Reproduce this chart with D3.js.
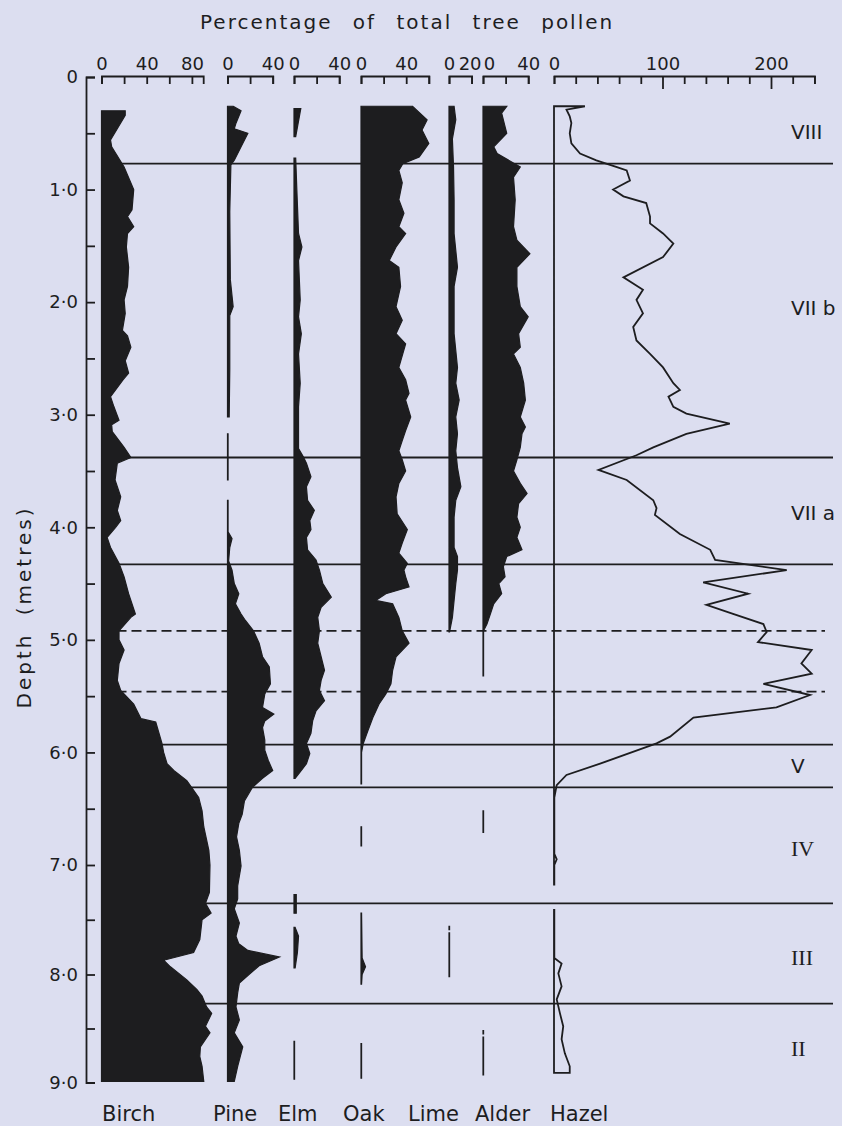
<!DOCTYPE html>
<html>
<head>
  <meta charset="utf-8">
  <script src="https://d3js.org/d3.v7.min.js"></script>
  <style>
    body { margin: 0; background: #dcdef0; }
    svg { display: block; }
  </style>
</head>
<body>
  <svg class="chart"></svg>
  <script>
      // Constants
      const WIDTH        = 842;
      const HEIGHT       = 1126;
      const COLOR_BKGND  = "#dcdef0";
      const INK          = "#1d1d1f";
      const FONT         = "DejaVu Sans";
      const SERIF        = "Liberation Serif";

      // ---- data: [depth (m), % of total tree pollen]; null = taxon absent
      const birch = [[0.30,21],[0.34,21],[0.56,8],[0.62,9],[0.80,20],[1.00,28.5],[1.18,27],[1.24,23],[1.33,28.5],
        [1.39,23],[1.51,22],[1.69,24],[1.86,23],[1.98,20],[2.10,21],[2.25,18.5],[2.30,23],[2.40,26],[2.52,21],
        [2.63,24],[2.69,19],[2.84,8],[2.93,11],[3.05,15.5],[3.09,9],[3.15,9.5],[3.29,20],[3.38,26],[3.43,14],
        [3.58,12],[3.73,17],[3.85,14],[3.94,17],[4.00,12.5],[4.09,5],[4.18,8],[4.32,15.5],[4.44,20],[4.59,24],
        [4.77,30],[4.80,26],[4.92,15.5],[5.00,15.5],[5.09,20],[5.21,15.5],[5.36,14],[5.45,17],[5.57,28.5],
        [5.70,35],[5.73,48],[5.92,53.5],[6.00,55],[6.10,58],[6.16,64],[6.25,75.5],[6.40,86],[6.52,89],[6.66,90.5],
        [6.87,95],[7.00,96],[7.25,95.5],[7.35,92],[7.44,97],[7.50,89],[7.68,87],[7.80,81.5],[7.87,55],[7.93,61],
        [8.05,75.5],[8.14,84.5],[8.20,89],[8.30,93],[8.36,97.5],[8.48,92],[8.54,96],[8.67,87.5],[8.76,87],
        [8.85,89],[8.99,90.5]];

      const pine = [[0.26,5],[0.30,12],[0.41,7.5],[0.46,6],[0.50,18],[0.62,12],[0.74,6],[0.78,3],[1.20,2],[1.80,2.5],
        [2.04,5],[2.12,2],[2.60,2],[3.02,1.5],[3.08,null],[3.17,0.5],[3.58,0.5],[3.65,null],[3.76,0.5],[4.04,0.5],
        [4.10,4],[4.18,2],[4.30,1],[4.38,4],[4.50,6],[4.59,10],[4.68,7],[4.77,12],[4.83,16],[4.92,23],[5.03,28],
        [5.15,31],[5.24,37],[5.39,38],[5.48,33],[5.60,31],[5.66,41],[5.72,33],[5.78,31],[5.89,33],[5.98,33],
        [6.07,36],[6.16,40],[6.23,31],[6.31,22],[6.43,15],[6.55,13],[6.63,10],[6.75,8],[6.87,10.5],[7.01,12],
        [7.19,9],[7.31,9],[7.40,6],[7.53,10.5],[7.65,7.5],[7.72,10],[7.78,18],[7.84,46],[7.92,28],[8.00,19],
        [8.08,10.5],[8.17,9],[8.30,7.5],[8.42,10.5],[8.54,6],[8.67,13.5],[8.85,9],[8.99,6]];

      const elm = [[0.28,6],[0.53,1.5],[0.60,null],[0.72,1.5],[1.00,2.5],[1.39,4],[1.51,7],[1.63,4],[1.98,5.5],
        [2.13,4],[2.28,6.5],[2.46,4],[2.72,5.5],[2.93,4],[3.30,4],[3.37,8],[3.43,11],[3.55,15],[3.64,11],[3.76,12],
        [3.85,18],[3.94,14],[4.02,15],[4.09,11],[4.20,12],[4.29,19.5],[4.38,22.5],[4.50,25.5],[4.62,33],[4.71,24],
        [4.80,21],[4.92,22.5],[5.03,21],[5.15,24],[5.27,27],[5.36,24],[5.45,22.5],[5.54,27],[5.63,19.5],
        [5.72,16.5],[5.83,15],[5.92,11],[6.01,14],[6.10,11],[6.16,6.5],[6.23,1],[6.30,null],[7.27,2],[7.44,2],
        [7.50,null],[7.57,1],[7.65,4],[7.80,3],[7.94,1],[8.00,null],[8.62,0.5],[8.97,0.5]];

      const oak = [[0.26,45.5],[0.38,58.5],[0.47,54],[0.59,60],[0.71,51.5],[0.77,37],[0.83,33.5],[0.94,36.5],
        [1.09,33.5],[1.21,38],[1.33,33.5],[1.39,39.5],[1.51,31],[1.63,25],[1.69,33.5],[1.86,35],[2.04,31],
        [2.16,36.5],[2.28,31],[2.37,39.5],[2.58,33.5],[2.69,39.5],[2.81,42.5],[2.87,39.5],[3.02,44],[3.14,39.5],
        [3.23,36.5],[3.32,33.5],[3.40,36.5],[3.50,39.5],[3.61,33.5],[3.73,31],[3.88,32],[4.02,41],[4.14,36.5],
        [4.23,33.5],[4.32,41],[4.38,38],[4.44,39.5],[4.53,42.5],[4.59,22],[4.65,13],[4.68,28],[4.80,33.5],
        [4.92,36.5],[5.03,42.5],[5.15,31],[5.27,28],[5.39,26.5],[5.48,22],[5.57,16],[5.69,10.5],[5.81,6],
        [5.92,2],[6.00,0.5],[6.28,0.5],[6.40,null],[6.66,0.5],[6.83,0.5],[7.00,null],[7.44,0.5],[7.85,1],
        [7.93,4],[8.00,1],[8.09,0.5],[8.30,null],[8.64,0.5],[8.96,0.5]];

      const lime = [[0.26,4.5],[0.38,6],[0.55,3],[0.80,4],[1.09,4.5],[1.39,4.5],[1.69,7.5],[1.86,4.5],[2.28,4.5],
        [2.58,7.5],[2.72,6],[2.87,9],[3.02,6],[3.17,7.5],[3.32,6],[3.47,7.5],[3.64,10.5],[3.76,6],[3.91,4.5],
        [4.18,4.5],[4.26,7.5],[4.38,7.5],[4.50,6],[4.65,4.5],[4.80,3],[4.93,0.5],[5.00,null],[7.56,0.5],
        [7.59,0.5],[7.60,null],[7.62,0.5],[8.02,0.5]];

      const alder = [[0.26,21],[0.32,16.5],[0.50,21],[0.62,9.5],[0.68,12.5],[0.80,33],[0.89,27],[1.09,28.5],
        [1.33,27],[1.45,30],[1.57,41.5],[1.69,30],[1.86,30],[2.04,33],[2.13,40],[2.28,31.5],[2.40,33],[2.46,27],
        [2.58,33],[2.72,36],[2.87,37.5],[3.02,33],[3.11,37.5],[3.17,34.5],[3.29,33],[3.40,30],[3.50,27],[3.61,33],
        [3.70,39],[3.79,31.5],[3.91,30],[4.00,33],[4.09,30],[4.20,34.5],[4.26,21],[4.35,18],[4.44,19.5],[4.50,14],
        [4.59,16.5],[4.68,9.5],[4.77,6.5],[4.86,3.5],[4.92,0.5],[5.32,0.5],[5.40,null],[6.52,0.5],[6.71,0.5],
        [6.80,null],[8.52,0.5],[8.55,0.5],[8.56,null],[8.58,0.5],[8.93,0.5]];

      const hazel = [[0.26,28.5],[0.29,11.5],[0.35,14.5],[0.41,16],[0.50,14.5],[0.59,16],[0.68,24],[0.74,39],
        [0.80,58],[0.83,67],[0.92,70],[1.00,54.5],[1.06,64],[1.12,85],[1.24,88.5],[1.30,88.5],[1.39,100.5],
        [1.48,110],[1.60,100.5],[1.78,64],[1.89,82],[1.98,76],[2.10,82],[2.22,73],[2.34,76],[2.46,88.5],
        [2.58,100.5],[2.72,110],[2.78,116],[2.84,105.5],[2.93,110],[2.99,122],[3.08,162],[3.17,122],[3.29,91.5],
        [3.36,76],[3.49,41],[3.58,67],[3.76,91.5],[3.83,94.5],[3.89,93],[4.06,116],[4.20,144],[4.29,148.5],
        [4.38,214.5],[4.49,137.5],[4.59,179],[4.69,140.5],[4.77,165],[4.86,193],[4.93,196],[5.02,188],
        [5.09,237.5],[5.21,228],[5.30,237.5],[5.39,193],[5.49,236],[5.60,205],[5.69,128.5],[5.86,107],
        [5.92,94.5],[6.10,42.5],[6.20,11.5],[6.29,2.5],[6.40,0.3],[6.90,0.3],[6.95,2.5],[7.00,0.3],[7.18,0.3],
        [7.30,null],[7.41,0.3],[7.85,0.3],[7.90,7],[7.99,4],[8.11,7],[8.23,2.5],[8.36,5.5],[8.48,8.5],[8.60,7],
        [8.73,10],[8.85,14.5],[8.91,14.5]];

      const taxa        = ["Birch", "Pine", "Elm", "Oak", "Lime", "Alder", "Hazel"];
      const series      = [birch, pine, elm, oak, lime, alder, hazel];
      const axisMax     = [90, 40, 40, 60, 20, 40, 240];
      const axisLabels  = [[0, 40, 80], [0, 40], [0, 40], [0, 40], [0, 20], [0, 40], [0, 100, 200]];

      const depthTicks  = d3.range(0, 9.01, 0.5);
      const zoneLines   = [0.77, 3.38, 4.33, 5.93, 6.31, 7.35, 8.27];
      const zoneDashed  = [4.92, 5.46];
      const zoneNames   = ["VIII", "VII b", "VII a", "V", "IV", "III", "II"];
      const zoneMid     = [0.49, 2.05, 3.87, 6.12, 6.85, 7.84, 8.68];

      // ---- layout (pixels)
      const COL_X0    = [101.5, 227.5, 294, 361, 449, 483, 554];
      const PX_PER    = [1.13, 1.13, 1.13, 1.13, 1.13, 1.13, 1.085];
      const NAME_X    = [102, 213, 278, 343, 408, 475, 550];
      const AXIS_Y    = 76;
      const DEPTH_X   = 86;
      const LINE_END  = 833;
      const DASH_END  = 825;
      const ZONE_X    = 791;

      const svg = d3.select(".chart").attr("width", WIDTH).attr("height", HEIGHT);
      svg.append("rect").attr("width", WIDTH).attr("height", HEIGHT).attr("fill", COLOR_BKGND);

      // depth scale (the scanned figure is slightly compressed below 7 m)
      const yScale = d3.scaleLinear().domain([0, 7, 8, 9]).range([77, 865, 974.5, 1082.5]);

      const xScales = COL_X0.map((x0, i) =>
        d3.scaleLinear().domain([0, axisMax[i]]).range([x0, x0 + axisMax[i] * PX_PER[i]]));

      // zone boundaries
      svg.selectAll(".zone").data(zoneLines).enter().append("line")
        .attr("x1", COL_X0[0]).attr("x2", LINE_END)
        .attr("y1", d => yScale(d)).attr("y2", d => yScale(d))
        .attr("stroke", INK).attr("stroke-width", 1.8);
      svg.selectAll(".zoned").data(zoneDashed).enter().append("line")
        .attr("x1", COL_X0[0]).attr("x2", DASH_END)
        .attr("y1", d => yScale(d)).attr("y2", d => yScale(d))
        .attr("stroke", INK).attr("stroke-width", 1.8).attr("stroke-dasharray", "10,5");

      // pollen curves
      series.forEach((data, i) => {
        const x = xScales[i];
        const area = d3.area()
          .defined(d => d[1] != null)
          .y(d => yScale(d[0]))
          .x0(x(0))
          .x1(d => x(d[1]));
        const isHazel = taxa[i] === "Hazel";
        svg.append("path").datum(data)
          .attr("d", area)
          .attr("fill", isHazel ? "none" : INK)
          .attr("stroke", INK)
          .attr("stroke-width", isHazel ? 1.8 : 1.2)
          .attr("stroke-linejoin", "miter");
      });

      // top percentage axes
      xScales.forEach((x, i) => {
        const labels = axisLabels[i];
        const g = svg.append("g")
          .attr("transform", `translate(0, ${AXIS_Y})`)
          .attr("color", INK)
          .call(d3.axisTop(x)
            .tickValues(d3.range(0, axisMax[i] + 0.1, 20))
            .tickSizeInner(-8).tickSizeOuter(-8).tickPadding(6)
            .tickFormat(d => labels.includes(d) ? d : ""));
        g.select(".domain").attr("stroke-width", 1.8);
        g.selectAll(".tick line").attr("stroke-width", 1.8)
          .filter(d => i === 6 && d > 0 && d % 100 === 0).attr("y2", 13);
        g.selectAll("text").attr("font-family", FONT).attr("font-size", 18);
        // the crowded Lime / Alder labels sit a little apart, as in the figure
        if (i === 4) g.selectAll("text").filter(d => d === 20).attr("dx", -2);
        if (i === 5) g.selectAll("text").filter(d => d === 0).attr("dx", 6);
      });

      // depth axis
      const yAxis = d3.axisLeft(yScale)
        .tickValues(depthTicks)
        .tickSizeInner(-9).tickSizeOuter(-9).tickPadding(8)
        .tickFormat(d => Number.isInteger(d) ? (d === 0 ? "0" : d.toFixed(1).replace(".", "·")) : "");
      const gy = svg.append("g").attr("transform", `translate(${DEPTH_X}, 0)`).attr("color", INK).call(yAxis);
      gy.select(".domain").attr("stroke-width", 1.8);
      gy.selectAll(".tick line").attr("stroke-width", 1.8);
      gy.selectAll("text").attr("font-family", FONT).attr("font-size", 18);

      svg.append("text")
        .attr("transform", `translate(24, 607) rotate(-90)`)
        .attr("text-anchor", "middle").attr("dominant-baseline", "central")
        .attr("font-family", FONT).attr("font-size", 20)
        .attr("letter-spacing", 3).attr("word-spacing", 8)
        .attr("fill", INK)
        .text("Depth (metres)");

      // title
      svg.append("text")
        .attr("x", 200).attr("y", 29)
        .attr("font-family", FONT).attr("font-size", 20)
        .attr("letter-spacing", 2).attr("word-spacing", 12)
        .attr("fill", INK)
        .text("Percentage of total tree pollen");

      // taxon names
      svg.selectAll(".taxon").data(taxa).enter().append("text")
        .attr("x", (d, i) => NAME_X[i]).attr("y", 1121)
        .attr("font-family", FONT).attr("font-size", 21)
        .attr("fill", INK)
        .text(d => d);

      // zone labels
      svg.selectAll(".zlabel").data(zoneNames).enter().append("text")
        .attr("x", ZONE_X).attr("y", (d, i) => yScale(zoneMid[i]))
        .attr("dy", "0.36em")
        .attr("font-family", d => /^(IV|III|II)$/.test(d) ? SERIF : FONT)
        .attr("font-size", d => /^(IV|III|II)$/.test(d) ? 22 : 20)
        .attr("fill", INK)
        .text(d => d);
  </script>
</body>
</html>
